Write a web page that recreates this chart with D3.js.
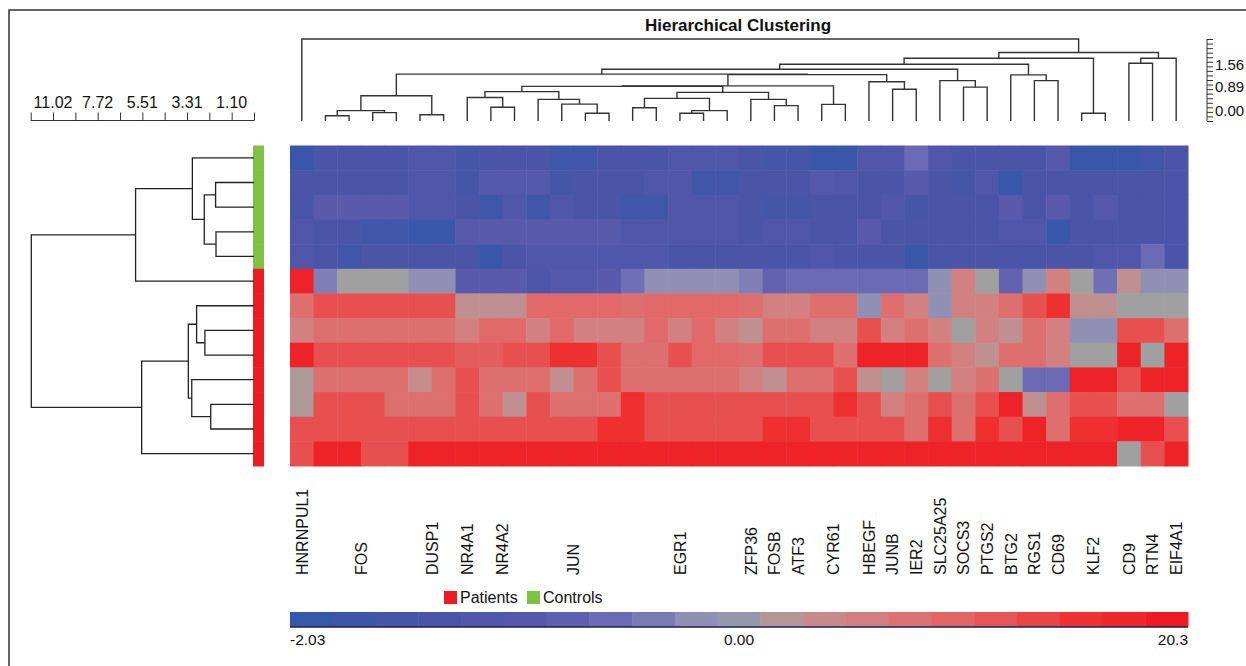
<!DOCTYPE html>
<html>
<head>
<meta charset="utf-8">
<script src="https://cdn.jsdelivr.net/npm/d3@7/dist/d3.min.js"></script>
<style>
  body { margin: 0; background: #fff; }
  text { font-family: "Liberation Sans", Arial, sans-serif; fill: #111; }
</style>
</head>
<body>
<script>
// ---- data ----
var genes = ["HNRNPUL1","FOS","DUSP1","NR4A1","NR4A2","JUN","EGR1","ZFP36","FOSB","ATF3","CYR61",
             "HBEGF","JUNB","IER2","SLC25A25","SOCS3","PTGS2","BTG2","RGS1","CD69","KLF2","CD9","RTN4","EIF4A1"];
var probesPerGene = [1,4,2,1,2,4,5,1,1,1,2,1,1,1,1,1,1,1,1,1,2,1,1,1];

var groups = ["Patients","Controls"];
var sampleGroup = ["Controls","Controls","Controls","Controls","Controls",
                   "Patients","Patients","Patients","Patients","Patients","Patients","Patients","Patients"];

// expression per sample (rows) and probe (columns)
var expr = [
  [-1.9,-1.4,-1.4,-1.4,-1.4,-1.2,-1.2,-1.55,-1.4,-1.4,-1.4,-1.7,-1.7,-1.4,-1.4,-1.4,-1.2,-1.2,-1.2,-1.4,-1.55,-1.55,-1.9,-1.9,-1.2,-1.2,-0.6,-1.2,-1.4,-1.4,-1.4,-1.4,-1.05,-1.9,-1.9,-1.9,-1.7,-1.4],
  [-1.4,-1.4,-1.4,-1.4,-1.4,-1.2,-1.2,-1.55,-1.05,-1.05,-1.05,-1.55,-1.4,-1.4,-1.4,-1.2,-1.2,-1.7,-1.7,-1.4,-1.4,-1.4,-1.05,-1.2,-1.4,-1.4,-0.9,-1.4,-1.55,-1.2,-1.9,-1.4,-1.4,-1.4,-1.4,-1.4,-1.4,-1.4],
  [-1.4,-0.9,-0.9,-0.9,-0.9,-1.2,-1.2,-1.4,-1.7,-1.2,-1.7,-1.2,-1.4,-1.4,-1.7,-1.7,-1.2,-1.2,-1.2,-1.4,-1.55,-1.55,-1.4,-1.4,-1.4,-1.2,-1.55,-1.4,-1.4,-1.4,-0.9,-1.4,-0.9,-1.4,-1.05,-1.4,-1.4,-1.4],
  [-1.2,-1.4,-1.4,-1.7,-1.7,-1.9,-1.9,-0.9,-0.9,-0.9,-0.9,-0.9,-0.9,-0.9,-1.2,-1.2,-1.2,-1.2,-1.2,-1.4,-1.2,-1.2,-1.4,-1.4,-0.9,-1.4,-1.4,-1.4,-1.4,-1.4,-1.2,-1.2,-1.9,-1.4,-1.4,-1.4,-1.4,-1.4],
  [-1.2,-1.4,-1.7,-1.4,-1.4,-1.4,-1.4,-1.4,-1.9,-1.4,-1.2,-1.2,-1.2,-1.2,-1.2,-1.2,-1.4,-1.4,-1.4,-1.4,-1.4,-1.4,-1.2,-1.4,-1.4,-1.4,-1.9,-1.4,-1.4,-1.4,-1.4,-1.4,-1.4,-1.4,-1.2,-1.2,-0.6,-1.4],
  [19,-0.35,0.3,0.3,0.3,-0.2,-0.2,-0.9,-0.9,-0.9,-1.3,-1.05,-1.05,-0.9,-0.5,-0.2,-0.2,-0.2,-0.2,-0.35,-0.75,-0.6,-0.6,-0.6,-0.6,-0.6,-0.6,-0.2,6,0.3,-0.75,-0.2,6,0.3,-0.5,3,-0.2,-0.2],
  [8.5,13,13,13,13,13,13,3,3,3,9.5,9.5,9.5,9.5,8.5,9.5,9.5,9.5,9.5,8.5,6,6,8.5,8.5,-0.2,8.5,6,-0.2,6,6,8.5,13,16.5,3,3,0.3,0.3,0.3],
  [6,8.5,8.5,8.5,8.5,8.5,8.5,6,9.5,9.5,6,9.5,6,6,6,9.5,6,9.5,6,3,8.5,8.5,6,6,13,6,8.5,6,0.3,6,3,8.5,6,-0.2,-0.2,13,13,8.5],
  [19,13,13,13,13,13,13,11,11,13,13,16.5,16.5,13,8.5,8.5,13,9.5,9.5,8.5,13,13,13,8.5,19,19,19,8.5,6,3,8.5,8.5,6,0.3,0.3,19,0.3,19],
  [1.5,8.5,8.5,8.5,8.5,4,8.5,13,8.5,8.5,8.5,3,8.5,13,8.5,8.5,8.5,8.5,8.5,6,3,8.5,8.5,13,3,0.5,6,0.5,6,8.5,0.3,-0.6,-0.6,19,19,13,19,19],
  [1.5,13,13,13,8.5,8.5,8.5,13,8.5,3,13,8.5,8.5,8.5,16.5,13,13,13,13,13,13,13,13,16.5,13,6,8.5,13,8.5,13,19,3,8.5,13,13,8.5,8.5,0.3],
  [13,13,13,13,13,13,13,13,13,13,13,13,13,16.5,16.5,13,13,13,13,13,16.5,16.5,13,13,13,13,8.5,16.5,8.5,16.5,13,19,8.5,16.5,16.5,19,19,13],
  [13,19,19,13,13,19,19,19,19,19,19,19,19,19,19,19,19,19,19,19,19,19,19,19,19,19,19,19,19,19,19,19,19,19,19,0.3,13,19]
];

// linkage: [childA, childB, height]; ids < n are leaves, n+k is the k-th merge
var colLinkage = [
  [1,2,0.20],[3,4,0.32],[38,39,0.40],[5,6,0.24],[40,41,0.97],
  [8,9,0.53],[7,43,0.90],[12,13,0.30],[11,45,0.65],[10,46,0.83],[44,47,1.13],
  [14,15,0.51],[16,17,0.30],[50,18,0.40],[49,51,0.87],[20,21,0.59],[19,53,0.83],[52,54,1.10],
  [48,55,1.33],[22,23,0.64],[56,57,1.35],[25,26,1.22],[24,59,1.51],[58,60,1.78],[42,61,1.80],
  [28,29,1.30],[27,63,1.55],[62,64,1.99],[31,32,1.55],[30,66,1.77],[65,67,2.18],
  [33,34,0.30],[68,69,2.41],[35,36,2.22],[71,37,2.41],[70,72,2.63],[0,73,3.15]
];
var rowLinkage = [
  [1,2,1.90],[3,4,1.88],[13,14,2.46],[0,15,3.05],[16,5,5.86],
  [7,8,2.43],[6,18,2.84],[10,11,2.14],[9,20,3.08],[19,21,3.25],[22,12,5.56],[17,23,11.02]
];

var colAxisLabels = ["1.56","0.89","0.00"];
var colAxisLabelAt = [2.17, 1.3, 0.4];
var rowAxisLabels = ["11.02","7.72","5.51","3.31","1.10"];
var rowAxisLabelAt = [9.945, 7.735, 5.525, 3.315, 1.105];

var barLabels = ["-2.03","0.00","20.3"];
var barDomain = [-2.03, 0, 20.3];

// ---- layout ----
var width = 1246, height = 666;
var heat = {x: 290, y: 145.5, w: 898, h: 320.5};

var nCols = expr[0].length, nRows = expr.length;

var svg = d3.select("body").append("svg")
  .attr("width", width)
  .attr("height", height);

// frame
svg.append("rect")
  .attr("x", 9).attr("y", 10)
  .attr("width", width).attr("height", height)
  .attr("fill", "none").attr("stroke", "#333").attr("stroke-width", 1.5);

var xScale = d3.scaleBand().domain(d3.range(nCols)).range([heat.x, heat.x + heat.w]);
var yScale = d3.scaleBand().domain(d3.range(nRows)).range([heat.y, heat.y + heat.h]);

var color = d3.scaleLinear()
  .domain([-2.03, -1.4, -0.9, -0.5, -0.2, 0.3, 3, 6, 9, 13, 16.5, 20.3])
  .range(["#3558a8","#4a55a8","#5a5aac","#7070b8","#9090b4","#a0a0a0",
          "#c09090","#d28080","#e06c6c","#e85050","#ee3030","#ee1c22"])
  .clamp(true);

// heatmap cells
var cells = [];
expr.forEach(function(row, r) {
  row.forEach(function(v, c) { cells.push({r: r, c: c, v: v}); });
});
svg.append("g").selectAll("rect")
  .data(cells)
  .enter().append("rect")
  .attr("x", function(d) { return xScale(d.c); })
  .attr("y", function(d) { return yScale(d.r); })
  .attr("width", xScale.bandwidth() + 0.5)
  .attr("height", yScale.bandwidth() + 0.5)
  .attr("fill", function(d) { return color(d.v); });

// group bar
var groupColor = d3.scaleOrdinal().domain(groups).range(["#ed1c24","#7dc242"]);
svg.append("g").selectAll("rect")
  .data(sampleGroup)
  .enter().append("rect")
  .attr("x", 253)
  .attr("y", function(d, i) { return yScale(i); })
  .attr("width", 11)
  .attr("height", yScale.bandwidth() + 0.5)
  .attr("fill", function(d) { return groupColor(d); });

// ---- dendrograms ----
function buildTree(linkage, n, leafPos) {
  var nodes = d3.range(n).map(function(i) { return {pos: leafPos(i), h: 0}; });
  linkage.forEach(function(m) {
    var a = nodes[m[0]], b = nodes[m[1]];
    nodes.push({a: a, b: b, h: m[2], pos: (a.pos + b.pos) / 2});
  });
  return nodes.slice(n);
}

// column tree (top)
var hScale = d3.scaleLinear().domain([0, 3.15]).range([121, 39]);
var colMerges = buildTree(colLinkage, nCols, function(i) { return xScale(i) + xScale.bandwidth() / 2; });
svg.append("g").selectAll("path")
  .data(colMerges)
  .enter().append("path")
  .attr("fill", "none").attr("stroke", "#333").attr("stroke-width", 1.4)
  .attr("d", function(d) {
    return "M" + d.a.pos + "," + hScale(d.a.h) + "V" + hScale(d.h) +
           "H" + d.b.pos + "V" + hScale(d.b.h);
  });

// row tree (left)
var dScale = d3.scaleLinear().domain([0, 11.05]).range([254, 30.7]);
var rowMerges = buildTree(rowLinkage, nRows, function(i) { return yScale(i) + yScale.bandwidth() / 2; });
svg.append("g").selectAll("path")
  .data(rowMerges)
  .enter().append("path")
  .attr("fill", "none").attr("stroke", "#222").attr("stroke-width", 1.3)
  .attr("d", function(d) {
    return "M" + dScale(d.a.h) + "," + d.a.pos + "H" + dScale(d.h) +
           "V" + d.b.pos + "H" + dScale(d.b.h);
  });

// row distance axis
var rowAxis = svg.append("g")
  .attr("transform", "translate(0,120.5)")
  .call(d3.axisTop(dScale).tickValues(d3.range(11).map(function(k) { return k * 1.105; }))
        .tickSize(8).tickFormat(""));
rowAxis.select(".domain").attr("d", "M" + dScale(0) + ",0H" + dScale(11.05)).attr("stroke", "#333");
rowAxis.selectAll("line").attr("stroke", "#333");
svg.append("g").selectAll("text")
  .data(rowAxisLabels)
  .enter().append("text")
  .attr("x", function(d, i) { return dScale(rowAxisLabelAt[i]); })
  .attr("y", 108)
  .attr("text-anchor", "middle")
  .style("font-size", "16px")
  .text(function(d) { return d; });

// column distance axis
var colAxis = svg.append("g")
  .attr("transform", "translate(1207,0)")
  .call(d3.axisRight(hScale).tickValues(d3.range(19).map(function(k) { return k * 3.15 / 18; }))
        .tickSize(6).tickFormat(""));
colAxis.select(".domain").attr("d", "M0," + hScale(0) + "V" + hScale(3.15)).attr("stroke", "#333");
colAxis.selectAll("line").attr("stroke", "#333");
svg.append("g").selectAll("text")
  .data(colAxisLabels)
  .enter().append("text")
  .attr("x", 1215)
  .attr("y", function(d, i) { return hScale(colAxisLabelAt[i]); })
  .attr("dy", "0.35em")
  .style("font-size", "15px")
  .text(function(d) { return d; });

// title
svg.append("text")
  .attr("x", 738).attr("y", 31)
  .attr("text-anchor", "middle")
  .style("font-size", "17px").style("font-weight", "bold")
  .text("Hierarchical Clustering");

// gene labels
var geneStart = d3.cumsum([0].concat(probesPerGene));
svg.append("g").selectAll("text")
  .data(genes)
  .enter().append("text")
  .attr("transform", function(d, i) {
    var c0 = geneStart[i], c1 = geneStart[i] + probesPerGene[i] - 1;
    var cx = (xScale(c0) + xScale(c1) + xScale.bandwidth()) / 2;
    return "translate(" + cx + ",575)rotate(-90)";
  })
  .attr("dy", "0.36em")
  .style("font-size", "16px")
  .text(function(d) { return d; });

// legend
var legend = svg.append("g").attr("transform", "translate(444,591)");
var legItems = legend.selectAll("g")
  .data(groups)
  .enter().append("g")
  .attr("transform", function(d, i) { return "translate(" + (i * 83) + ",0)"; });
legItems.append("rect")
  .attr("width", 13).attr("height", 13)
  .attr("fill", function(d) { return groupColor(d); });
legItems.append("text")
  .attr("x", 16).attr("y", 12)
  .style("font-size", "16px")
  .text(function(d) { return d; });

// colour bar
var nBands = 21;
var bandVals = d3.range(nBands).map(function(k) {
  return k < 10 ? barDomain[0] * (10 - k) / 10 : barDomain[2] * (k - 10) / 10;
});
var bandScale = d3.scaleBand().domain(d3.range(nBands)).range([heat.x, heat.x + heat.w]);
svg.append("g").selectAll("rect")
  .data(bandVals)
  .enter().append("rect")
  .attr("x", function(d, i) { return bandScale(i); })
  .attr("y", 612)
  .attr("width", bandScale.bandwidth() + 0.5)
  .attr("height", 15)
  .attr("fill", function(d) { return color(d); });
svg.append("line")
  .attr("x1", heat.x).attr("x2", heat.x + heat.w)
  .attr("y1", 627).attr("y2", 627)
  .attr("stroke", "#1c1c5a").attr("stroke-width", 1.6);

var barLabelX = d3.scaleLinear().domain([0, 1, 2]).range([heat.x, heat.x + heat.w / 2, heat.x + heat.w]);
svg.append("g").selectAll("text")
  .data(barLabels)
  .enter().append("text")
  .attr("x", function(d, i) { return barLabelX(i); })
  .attr("y", 645)
  .attr("text-anchor", function(d, i) { return ["start","middle","end"][i]; })
  .style("font-size", "15.5px")
  .text(function(d) { return d; });
</script>
</body>
</html>
